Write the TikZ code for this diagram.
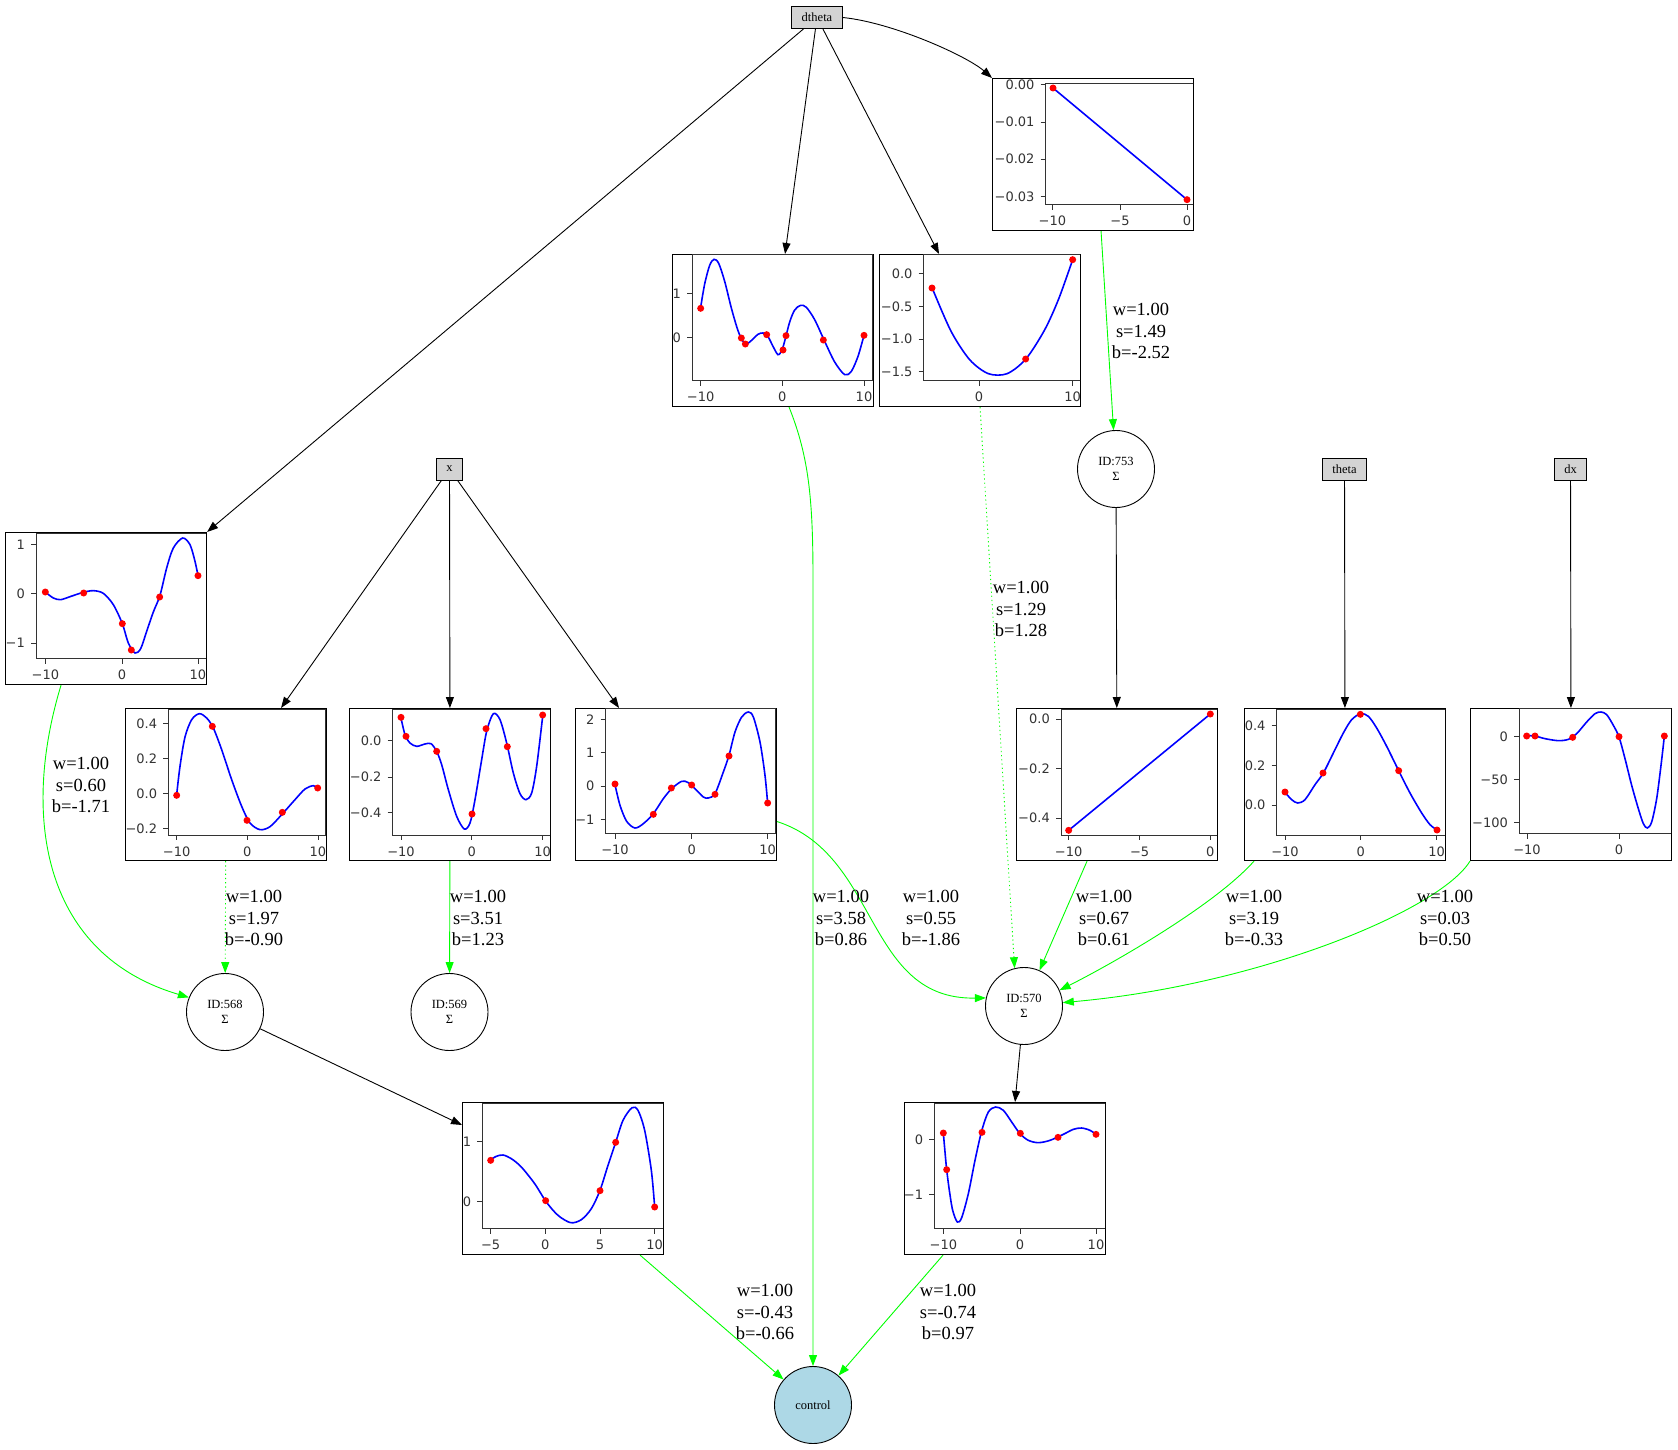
\documentclass[tikz,border=0pt]{standalone}
\usepackage{fontspec}
\setmainfont{Liberation Serif}
\newfontfamily\ticfont{DejaVu Sans}
\usetikzlibrary{arrows.meta}
\definecolor{nodegray}{HTML}{D3D3D3}
\definecolor{ctrlblue}{HTML}{ADD8E6}

% pieces of one embedded plot, coordinates in plot pixels
\newcommand\plotaxes[4]{\draw[spine] (#1,#2) rectangle (#3,#4);}
\newcommand\yticks[2]{%
  \foreach \ty/\tlab in {#2}{%
    \draw[spine] (#1-15,\ty) -- (#1,\ty);
    \node[ticklab, anchor=east] at (#1-33,\ty) {\tlab};}}
\newcommand\xticks[2]{%
  \foreach \tx/\tlab in {#2}{%
    \draw[spine] (\tx,#1) -- (\tx,#1+15);
    \node[ticklab, anchor=north] at (\tx,#1+35) {\tlab};}}
\newcommand\plotdots[1]{%
  \foreach \sx/\sy in {#1}{\fill[ptdot] (\sx,\sy) circle (3.5pt);}}

\begin{document}
\begin{tikzpicture}[
        x=1pt, y=-1pt,
        >={Triangle[length=11pt, width=8pt]},
        inbox/.style={draw, line width=0.9pt, fill=nodegray, minimum height=22pt, inner xsep=10pt, inner ysep=0pt, font=\fontsize{12.5}{14}\selectfont},
        sumnode/.style={draw, line width=0.9pt, circle, minimum size=77pt, inner sep=0pt, align=center, font=\fontsize{12.5}{15}\selectfont},
        plotbox/.style={draw, line width=1.1pt, anchor=north west, minimum width=201pt, minimum height=152pt, inner sep=0pt},
        inplot/.style 2 args={x=0.33333pt, y=-0.33333pt, shift={(-#1,-#2)}},
        spine/.style={draw=black!80, line width=0.8pt},
        ticklab/.style={font=\ticfont\fontsize{13}{15}\selectfont, text=black!80, inner sep=0pt, text height=9.4pt, text depth=0pt},
        fitline/.style={draw=blue, line width=1.6pt},
        ptdot/.style={fill=red},
        feed/.style={->, line width=0.9pt},
        wire/.style={->, draw=green, line width=0.9pt},
        dotwire/.style={wire, dash pattern=on 1.2pt off 3pt},
        elab/.style={font=\fontsize{18.5}{21.5}\selectfont, align=center, inner sep=0pt}
    ]
        \useasboundingbox (0,0) rectangle (1678,1450);

        %=================== inputs and sums ===================
        \node[inbox] (dtheta) at (817,17.5) {dtheta};
        \node[inbox] (inx) at (449.5,469) {x};
        \node[inbox] (intheta) at (1344.5,469) {theta};
        \node[inbox] (indx) at (1570.5,469) {dx};
        \node[sumnode] (n753) at (1116,469) {ID:753\\Σ};
        \node[sumnode] (n568) at (225,1012) {ID:568\\Σ};
        \node[sumnode] (n569) at (449.5,1012) {ID:569\\Σ};
        \node[sumnode] (n570) at (1024,1006) {ID:570\\Σ};
        \node[sumnode, fill=ctrlblue] (ctrl) at (813,1405) {control};

        %=================== plots fed by dtheta ===================
        \node[plotbox] (dthA) at (992,78) {};
        \begin{scope}[shift={(dthA.north west)}, inplot={22}{25}]
            \clip (22,25) rectangle ++(603,456);
            \plotaxes{183}{42}{628}{405}
            \yticks{183}{45/0.00, 157/−0.01, 268/−0.02, 381/−0.03}
            \xticks{405}{203/−10, 406/−5, 607/0}
            \draw[fitline] (205,55) -- (607,390);
            \plotdots{205/55, 607/390}
        \end{scope}

        \node[plotbox] (dthB) at (672,254) {};
        \begin{scope}[shift={(dthB.north west)}, inplot={22}{28}]
            \clip (22,28) rectangle ++(603,456);
            \plotaxes{82}{30}{622}{408}
            \yticks{82}{147/1, 278/0}
            \xticks{408}{108/−10, 353/0, 598/10}
            \draw[fitline] plot[smooth, tension=0.5] coordinates {(108,188) (120,118) (135,62) (148,44) (162,56) (180,110) (200,190) (218,252) (232,286) (245,298) (262,286) (280,269) (295,265) (310,276) (325,305) (340,330) (352,316) (362,282) (375,232) (390,196) (408,182) (425,188) (450,225) (480,290) (510,352) (540,390) (560,380) (580,335) (598,272)};
            \plotdots{108/191, 230/280, 242/298, 306/270, 355/316, 364/273, 476/286, 598/272}
        \end{scope}

        \node[plotbox] (dthC) at (879,254) {};
        \begin{scope}[shift={(dthC.north west)}, inplot={22}{28}]
            \clip (22,28) rectangle ++(603,456);
            \plotaxes{156}{30}{628}{408}
            \yticks{156}{86/0.0, 185/−0.5, 283/−1.0, 381/−1.5}
            \xticks{408}{322/0, 603/10}
            \draw[fitline] plot[smooth, tension=0.5] coordinates {(181.5,130) (237.7,259) (293.9,345) (350.1,387) (406.3,387) (462.5,343) (518.7,256) (560.9,163) (603,45)};
            \plotdots{181/130, 462/343, 603/45}
        \end{scope}

        \node[plotbox] (dthD) at (5,532) {};
        \begin{scope}[shift={(dthD.north west)}, inplot={15}{22}]
            \clip (15,22) rectangle ++(603,456);
            \plotaxes{108}{25}{618}{402}
            \yticks{108}{60/1, 207/0, 355/−1}
            \xticks{402}{136/−10, 366/0, 594/10}
            \draw[fitline] plot[smooth, tension=0.5] coordinates {(136,202) (160,220) (182,225) (210,216) (250,203) (280,198) (310,206) (340,240) (367,297) (385,355) (405,385) (422,372) (440,320) (460,262) (480,212) (500,130) (520,70) (548,40) (570,60) (585,110) (594,153)};
            \plotdots{136/202, 251/205, 367/297, 394/376, 479/217, 594/153}
        \end{scope}

        %=================== plots fed by x ===================
        \node[plotbox] (xA) at (125,708) {};
        \begin{scope}[shift={(xA.north west)}, inplot={20}{25}]
            \clip (20,25) rectangle ++(603,456);
            \plotaxes{150}{28}{620}{407}
            \yticks{150}{72/0.4, 177/0.2, 282/0.0, 387/−0.2}
            \xticks{407}{175/−10, 387/0, 599/10}
            \draw[fitline] plot[smooth, tension=0.5] coordinates {(175,285) (185,200) (200,112) (220,60) (243,42) (265,55) (285,85) (310,150) (340,240) (370,320) (395,370) (425,390) (455,381) (490,345) (530,300) (560,268) (585,258) (599,265)};
            \plotdots{175/287, 282/80, 386/362, 492/338, 598/265}
        \end{scope}

        \node[plotbox] (xB) at (349,708) {};
        \begin{scope}[shift={(xB.north west)}, inplot={22}{25}]
            \clip (22,25) rectangle ++(603,456);
            \plotaxes{153}{28}{625}{407}
            \yticks{153}{123/0.0, 232/−0.2, 339/−0.4}
            \xticks{407}{178/−10, 390/0, 603/10}
            \draw[fitline] plot[smooth, tension=0.5] coordinates {(178,55) (190,105) (205,130) (225,140) (250,133) (268,132) (285,155) (300,195) (320,270) (345,350) (368,388) (385,370) (400,300) (420,180) (435,95) (455,42) (475,60) (495,130) (515,220) (535,282) (553,300) (570,280) (585,200) (603,50)};
            \plotdots{178/53, 193/110, 285/155, 391/343, 433/87, 497/141, 603/46}
        \end{scope}

        \node[plotbox] (xC) at (575,708) {};
        \begin{scope}[shift={(xC.north west)}, inplot={20}{28}]
            \clip (20,28) rectangle ++(603,456);
            \plotaxes{112}{28}{622}{405}
            \yticks{112}{62/2, 162/1, 262/0, 362/−1}
            \xticks{405}{140/−10, 370/0, 598/10}
            \draw[fitline] plot[smooth, tension=0.5] coordinates {(140,258) (155,320) (175,368) (200,388) (225,375) (255,345) (285,300) (310,270) (340,248) (360,252) (385,275) (405,295) (420,298) (440,285) (465,220) (482,170) (500,100) (520,55) (540,40) (555,55) (575,130) (590,230) (598,315)};
            \plotdots{140/256, 255/347, 309/268, 370/259, 440/287, 482/172, 598/313}
        \end{scope}

        %=================== plots fed by ID:753, theta, dx ===================
        \node[plotbox] (sA) at (1016,708) {};
        \begin{scope}[shift={(sA.north west)}, inplot={22}{25}]
            \clip (22,25) rectangle ++(603,456);
            \plotaxes{157}{28}{628}{407}
            \yticks{157}{58/0.0, 207/−0.2, 355/−0.4}
            \xticks{407}{180/−10, 393/−5, 605/0}
            \draw[fitline] (180,392) -- (605,43);
            \plotdots{180/392, 605/43}
        \end{scope}

        \node[plotbox] (thA) at (1244,708) {};
        \begin{scope}[shift={(thA.north west)}, inplot={22}{25}]
            \clip (22,25) rectangle ++(603,456);
            \plotaxes{120}{28}{625}{407}
            \yticks{120}{78/0.4, 197/0.2, 316/0.0}
            \xticks{407}{145/−10, 372/0, 600/10}
            \draw[fitline] plot[smooth, tension=0.5] coordinates {(145,278) (165,300) (183,310) (205,300) (235,255) (260,220) (290,160) (320,100) (345,60) (372,42) (395,50) (420,85) (450,140) (487,215) (520,280) (555,340) (580,375) (600,390)};
            \plotdots{145/277, 259/220, 371/44, 486/213, 601/391}
        \end{scope}

        \node[plotbox] (dxA) at (1470,708) {};
        \begin{scope}[shift={(dxA.north west)}, inplot={25}{28}]
            \clip (25,28) rectangle ++(603,456);
            \plotaxes{172}{28}{630}{405}
            \yticks{172}{113/0, 242/−50, 372/−100}
            \xticks{405}{196/−10, 472/0}
            \draw[fitline] plot[smooth, tension=0.5] coordinates {(196,111) (220,112) (250,120) (290,126) (320,122) (345,105) (375,70) (400,45) (418,40) (435,48) (455,80) (472,115) (490,180) (510,260) (530,330) (545,375) (557,388) (570,370) (585,300) (598,200) (608,113)};
            \plotdots{195/112, 220/112, 333/116, 472/114, 608/112}
        \end{scope}

        %=================== plots after the sums ===================
        \node[plotbox] (oA) at (462,1102) {};
        \begin{scope}[shift={(oA.north west)}, inplot={22}{25}]
            \clip (22,25) rectangle ++(603,456);
            \plotaxes{83}{28}{625}{405}
            \yticks{83}{143/1, 323/0}
            \xticks{405}{108/−5, 272/0, 436/5, 600/10}
            \draw[fitline] plot[smooth, tension=0.5] coordinates {(108,198) (125,188) (145,184) (170,195) (200,220) (240,270) (275,325) (310,365) (348,387) (380,378) (410,345) (436,290) (460,215) (483,146) (505,80) (532,42) (550,50) (570,110) (590,230) (600,340)};
            \plotdots{108/200, 273/321, 436/291, 483/146, 600/340}
        \end{scope}

        \node[plotbox] (oB) at (904,1102) {};
        \begin{scope}[shift={(oB.north west)}, inplot={22}{25}]
            \clip (22,25) rectangle ++(603,456);
            \plotaxes{113}{28}{625}{405}
            \yticks{113}{137/0, 302/−1}
            \xticks{405}{140/−10, 370/0, 598/10}
            \draw[fitline] plot[smooth, tension=0.5] coordinates {(140,118) (145,175) (150,228) (158,290) (168,350) (182,385) (195,372) (215,300) (235,200) (255,112) (275,55) (297,40) (320,50) (345,85) (370,120) (395,140) (425,147) (460,140) (500,122) (530,107) (555,103) (580,110) (598,122)};
            \plotdots{140/118, 150/228, 256/116, 371/119, 484/131, 598/122}
        \end{scope}

        %=================== black edges ===================
        \draw[feed] (dtheta) -- (dthD.north east);
        \draw[feed] (dtheta) -- ([xshift=12pt]dthB.north);
        \draw[feed] (dtheta) -- ([xshift=-41pt]dthC.north);
        \draw[feed] (dtheta.east) .. controls +(50,5) and +(-25,-22) .. (dthA.north west);
        \draw[feed] (inx) -- ([xshift=55pt]xA.north);
        \draw[feed] (inx) -- (xB);
        \draw[feed] (inx) -- ([xshift=-57pt]xC.north);
        \draw[feed] (n753) -- (sA);
        \draw[feed] (intheta) -- (thA);
        \draw[feed] (indx) -- (dxA);
        \draw[feed] (n568) -- ([yshift=-23pt]oA.north west);
        \draw[feed] (n570) -- ([xshift=10pt]oB.north);

        %=================== green edges ===================
        \draw[wire] ([xshift=8pt]dthA.south) -- (n753);
        \draw[dotwire] (dthC.south) -- (n570.104);
        \draw[wire] ([xshift=16pt]dthB.south) .. controls +(20,50) and +(0,-80) .. (813,580) -- (ctrl);
        \draw[wire] ([xshift=-45pt]dthD.south) .. controls (20,820) and (45,955) .. (n568.158);
        \draw[dotwire] (xA) -- (n568);
        \draw[wire] (xB) -- (n569);
        \draw[wire] ([yshift=-37pt]xC.east) .. controls (880,855) and (865,1000) .. (n570.168);
        \draw[wire] ([xshift=-30pt]sA.south) -- (n570);
        \draw[wire] ([xshift=10pt]thA.south west) .. controls +(-40,45) and +(50,-25) .. (n570.24);
        \draw[wire] (dxA.south west) .. controls (1440,910) and (1260,985) .. (n570.5);
        \draw[wire] ([xshift=77pt]oA.south) -- (ctrl);
        \draw[wire] ([xshift=-62pt]oB.south) -- (ctrl);

        % edge labels
        \node[elab] (l753) at (1141,331) {w=1.00\\s=1.49\\b=-2.52};
        \node[elab] (lC570) at (1021,609) {w=1.00\\s=1.29\\b=1.28};
        \node[elab] (lctlB) at (841,918) {w=1.00\\s=3.58\\b=0.86};
        \node[elab] (lD568) at (81,785) {w=1.00\\s=0.60\\b=-1.71};
        \node[elab] (lA568) at (254,918) {w=1.00\\s=1.97\\b=-0.90};
        \node[elab] (l569) at (478,918) {w=1.00\\s=3.51\\b=1.23};
        \node[elab] (lxC570) at (931,918) {w=1.00\\s=0.55\\b=-1.86};
        \node[elab] (lsA570) at (1104,918) {w=1.00\\s=0.67\\b=0.61};
        \node[elab] (lth570) at (1254,918) {w=1.00\\s=3.19\\b=-0.33};
        \node[elab] (ldx570) at (1445,918) {w=1.00\\s=0.03\\b=0.50};
        \node[elab] (lctlA) at (765,1312) {w=1.00\\s=-0.43\\b=-0.66};
        \node[elab] (lctlC) at (948,1312) {w=1.00\\s=-0.74\\b=0.97};
    \end{tikzpicture}
\end{document}
